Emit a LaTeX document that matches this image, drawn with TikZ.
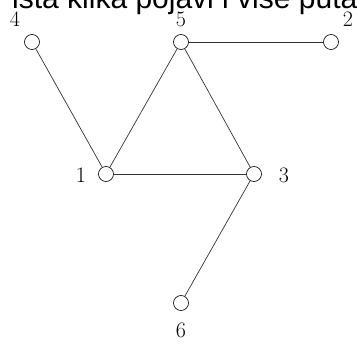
\documentclass[tikz,border=0pt]{standalone}
\usepackage{fontspec}
\newfontfamily\topfont{Liberation Sans}
\begin{document}
\begin{tikzpicture}[x=1pt,y=-1pt,
  vertex/.style={draw,circle,inner sep=0pt,minimum size=15pt,line width=0.6pt},
  edge/.style={line width=0.7pt,draw=black!80},
  lab/.style={font=\fontsize{22}{22}\selectfont,inner sep=0pt}]
\useasboundingbox (0,0) rectangle (357,345);
\clip (0,0) rectangle (357,345);
\node[anchor=base west,inner sep=0pt,font=\topfont\fontsize{30}{32}\selectfont] (top) at (12,8.5) {ista klika pojavi i više puta};
\node[vertex] (n4) at (32,42) {};
\node[vertex] (n5) at (181,42) {};
\node[vertex] (n2) at (331,42) {};
\node[vertex] (n1) at (106,174) {};
\node[vertex] (n3) at (254,174) {};
\node[vertex] (n6) at (181,303) {};
\node[lab] (l4) at (15,19) {4};
\node[lab] (l5) at (181,19) {5};
\node[lab] (l2) at (348,19) {2};
\node[lab] (l1) at (81,175) {1};
\node[lab] (l3) at (284,175) {3};
\node[lab] (l6) at (181,330) {6};
\draw[edge] (n4) -- (n1);
\draw[edge] (n5) -- (n1);
\draw[edge] (n5) -- (n3);
\draw[edge] (n5) -- (n2);
\draw[edge] (n1) -- (n3);
\draw[edge] (n3) -- (n6);
\end{tikzpicture}
\end{document}
